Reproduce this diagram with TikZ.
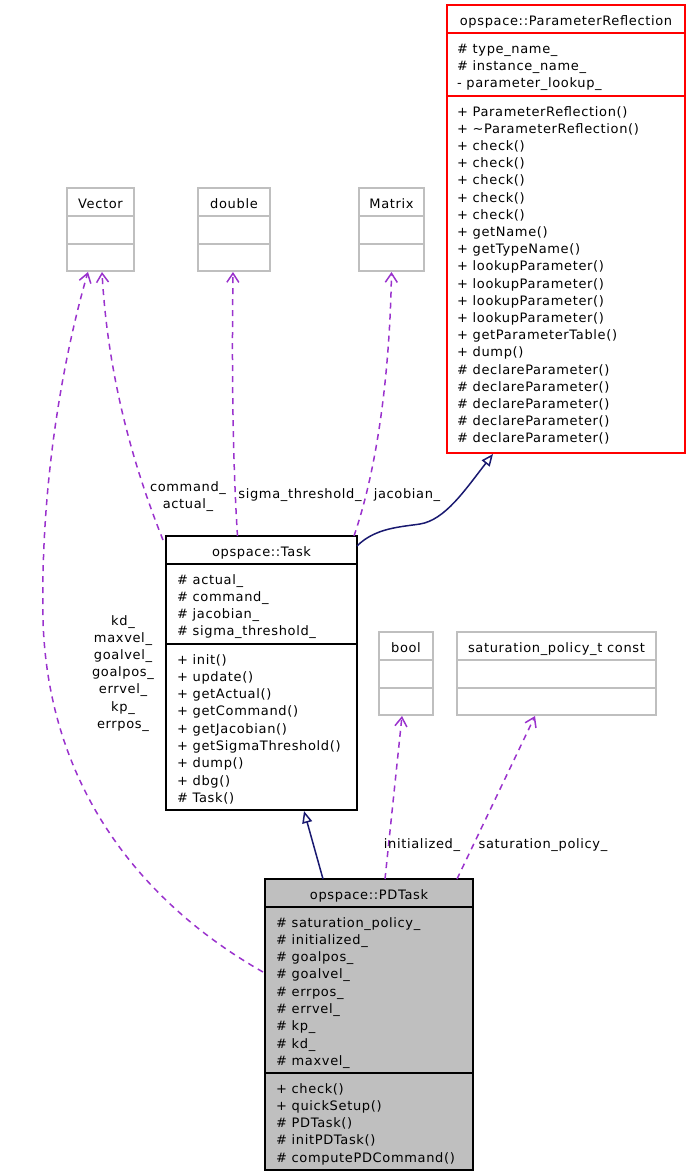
\documentclass[tikz,border=0pt]{standalone}
\usepackage{fontspec}
\setmainfont{DejaVu Sans}[LetterSpace=5]
\usetikzlibrary{arrows.meta,calc}
\definecolor{edgepurple}{HTML}{9A32CD}
\definecolor{inhnavy}{HTML}{191970}
\definecolor{boxgray}{HTML}{BFBFBF}
\tikzset{
  every node/.style={inner sep=0pt, outer sep=0pt, font=\fontsize{13}{17.3}\selectfont},
  cbox/.style={draw, line width=1.7pt, anchor=north west},
  txt/.style={anchor=base west},
  ttl/.style={anchor=base},
  lbl/.style={anchor=base},
  divider/.style={line width=1.7pt},
  dep/.style={draw=edgepurple, line width=1.5pt, dash pattern=on 6pt off 5pt,
    -{Straight Barb[length=9pt,width=12pt]}},
  inh/.style={draw=inhnavy, line width=1.5pt,
    -{Triangle[open,length=12pt,width=10pt,fill=white]}},
}
\begin{document}
\begin{tikzpicture}[x=1pt,y=-1pt]
\useasboundingbox (0,0) rectangle (689,1175);

% ---------- opspace::ParameterReflection ----------
\node[cbox, draw=red, minimum width=238pt, minimum height=448pt] (pr) at (447,5) {};
\draw[divider, red] (447,33) -- (685,33);
\draw[divider, red] (447,96) -- (685,96);
\node[ttl] (pr-t) at (566,25) {opspace::ParameterReflection};
\foreach \t [count=\i from 0] in {\# type\_name\_, \# instance\_name\_, - parameter\_lookup\_}
  \node[txt] (pr-a\i) at (457,53+17.3*\i) {\t};
\foreach \t [count=\i from 0] in {+ ParameterReflection(), + \textasciitilde ParameterReflection(),
  + check(), + check(), + check(), + check(), + check(), + getName(), + getTypeName(),
  + lookupParameter(), + lookupParameter(), + lookupParameter(), + lookupParameter(),
  + getParameterTable(), + dump(), \# declareParameter(), \# declareParameter(),
  \# declareParameter(), \# declareParameter(), \# declareParameter()}
  \node[txt] (pr-m\i) at (457,116+17.2*\i) {\t};

% ---------- type boxes ----------
\node[cbox, draw=boxgray, minimum width=67pt, minimum height=83pt] (vector) at (67,188) {};
\draw[divider, boxgray] (67,216) -- (134,216);
\draw[divider, boxgray] (67,244) -- (134,244);
\node[ttl] (vector-t) at (100.5,208) {Vector};

\node[cbox, draw=boxgray, minimum width=72pt, minimum height=83pt] (double) at (198,188) {};
\draw[divider, boxgray] (198,216) -- (270,216);
\draw[divider, boxgray] (198,244) -- (270,244);
\node[ttl] (double-t) at (234,208) {double};

\node[cbox, draw=boxgray, minimum width=65pt, minimum height=83pt] (matrix) at (359,188) {};
\draw[divider, boxgray] (359,216) -- (424,216);
\draw[divider, boxgray] (359,244) -- (424,244);
\node[ttl] (matrix-t) at (391.5,208) {Matrix};

\node[cbox, draw=boxgray, minimum width=54pt, minimum height=83pt] (bool) at (379,632) {};
\draw[divider, boxgray] (379,660) -- (433,660);
\draw[divider, boxgray] (379,688) -- (433,688);
\node[ttl] (bool-t) at (406,652) {bool};

\node[cbox, draw=boxgray, minimum width=199pt, minimum height=83pt] (sat) at (457,632) {};
\draw[divider, boxgray] (457,660) -- (656,660);
\draw[divider, boxgray] (457,688) -- (656,688);
\node[ttl] (sat-t) at (556.5,652) {saturation\_policy\_t const};

% ---------- opspace::Task ----------
\node[cbox, draw=black, minimum width=191pt, minimum height=274pt] (task) at (166,536) {};
\draw[divider] (166,564) -- (357,564);
\draw[divider] (166,644) -- (357,644);
\node[ttl] (task-t) at (261.5,556) {opspace::Task};
\foreach \t [count=\i from 0] in {\# actual\_, \# command\_, \# jacobian\_, \# sigma\_threshold\_}
  \node[txt] (task-a\i) at (177,584+17.3*\i) {\t};
\foreach \t [count=\i from 0] in {+ init(), + update(), + getActual(), + getCommand(),
  + getJacobian(), + getSigmaThreshold(), + dump(), + dbg(), \# Task()}
  \node[txt] (task-m\i) at (177,664+17.3*\i) {\t};

% ---------- opspace::PDTask ----------
\node[cbox, draw=black, fill=boxgray, minimum width=208pt, minimum height=291pt] (pdtask) at (265,879) {};
\draw[divider] (265,907) -- (473,907);
\draw[divider] (265,1073) -- (473,1073);
\node[ttl] (pdtask-t) at (369,899) {opspace::PDTask};
\foreach \t [count=\i from 0] in {\# saturation\_policy\_, \# initialized\_, \# goalpos\_,
  \# goalvel\_, \# errpos\_, \# errvel\_, \# kp\_, \# kd\_, \# maxvel\_}
  \node[txt] (pdtask-a\i) at (276,927+17.3*\i) {\t};
\foreach \t [count=\i from 0] in {+ check(), + quickSetup(), \# PDTask(), \# initPDTask(),
  \# computePDCommand()}
  \node[txt] (pdtask-m\i) at (276,1093+17.3*\i) {\t};

% ---------- inheritance ----------
\draw[inh] ($(task.north east)+(0,10)$) .. controls (375,528) and (400,527) .. (420,524)
  .. controls (445,520) and (465,490) .. ($(pr.south)+(-73,1)$);
\draw[inh] ($(pdtask.north)+(-46,0)$) -- ($(task.south)+(42.5,1)$);

% ---------- dependencies ----------
\draw[dep] ($(task.north west)+(-3,4)$) .. controls (135,470) and (108,380) .. ($(vector.south)+(1.5,1)$);
\draw[dep] ($(task.north)+(-24,0)$) .. controls (232,450) and (232,350) .. ($(double.south)+(-1,1)$);
\draw[dep] ($(task.north east)+(-3,0)$) .. controls (380,460) and (390,360) .. ($(matrix.south)+(0,1)$);
\draw[dep] ($(pdtask.north west)+(-2,93)$) .. controls (145,905) and (48,790) .. (43,620)
  .. controls (40,470) and (68,340) .. ($(vector.south)+(-12.5,1)$);
\draw[dep] ($(pdtask.north)+(16,0)$) -- ($(bool.south)+(-4,1)$);
\draw[dep] ($(pdtask.north)+(88,0)$) -- ($(sat.south)+(-21.5,1)$);

% ---------- edge labels ----------
\node[lbl] (l-cmd) at (188,491) {command\_};
\node[lbl] (l-act) at (188,508) {actual\_};
\node[lbl] (l-sig) at (300,498) {sigma\_threshold\_};
\node[lbl] (l-jac) at (407,498) {jacobian\_};
\foreach \t [count=\i from 0] in {kd\_, maxvel\_, goalvel\_, goalpos\_, errvel\_, kp\_, errpos\_}
  \node[lbl] (l-v\i) at (123,625+17.2*\i) {\t};
\node[lbl] (l-init) at (422,848) {initialized\_};
\node[lbl] (l-sat) at (543,848) {saturation\_policy\_};
\end{tikzpicture}
\end{document}
